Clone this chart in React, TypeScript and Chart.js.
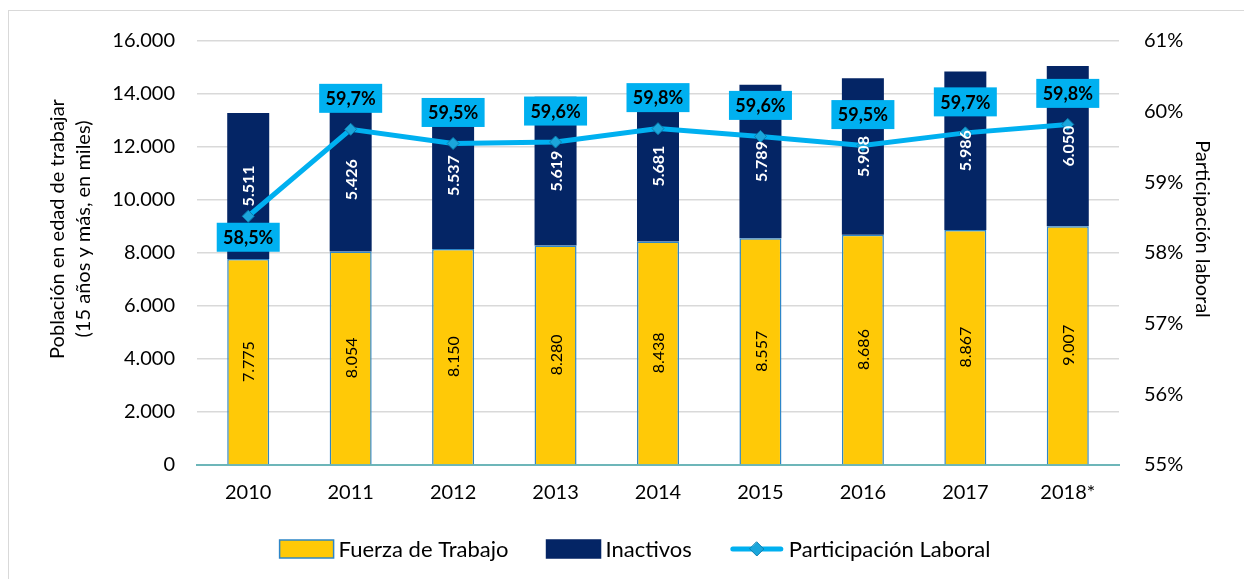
import React, { useEffect, useRef } from "react";
import { Chart, registerables } from "chart.js";

Chart.register(...registerables);

const categories = ["2010", "2011", "2012", "2013", "2014", "2015", "2016", "2017", "2018*"];
const fuerzaTrabajo = [7775, 8054, 8150, 8280, 8438, 8557, 8686, 8867, 9007];
const inactivos = [5511, 5426, 5537, 5619, 5681, 5789, 5908, 5986, 6050];
const participacion = [58.52, 59.75, 59.55, 59.57, 59.76, 59.65, 59.52, 59.7, 59.82];
const participacionLabels = ["58,5%", "59,7%", "59,5%", "59,6%", "59,8%", "59,6%", "59,5%", "59,7%", "59,8%"];
const leftTicks = { min: 0, max: 16000, step: 2000 };
const rightTicks = { min: 55, max: 61, step: 1 };
const leftTitle = ["Población en edad de trabajar", "(15 años y más, en miles)"];
const rightTitle = "Participación laboral";

const FONT = "Lato, 'Noto Sans', sans-serif";
const YELLOW = "#FFC907";
const NAVY = "#042565";
const CYAN = "#00B0F0";

function fmtThousands(v: number): string {
  const s = Math.round(v).toString();
  return s.replace(/\B(?=(\d{3})+(?!\d))/g, ".");
}

const labelPlugin = {
  id: "customLabels",
  afterDatasetsDraw(chart: any) {
    const ctx = chart.ctx;
    ctx.save();
    // bar value labels (drawn over the line)
    chart.data.datasets.forEach((ds: any, di: number) => {
      if (ds.type === "line") return;
      const meta = chart.getDatasetMeta(di);
      meta.data.forEach((el: any, i: number) => {
        const v = ds.data[i];
        const cy = (el.y + el.base) / 2;
        ctx.save();
        ctx.translate(el.x, cy);
        ctx.rotate(-Math.PI / 2);
        ctx.textAlign = "center";
        ctx.textBaseline = "middle";
        if (ds.label === "Inactivos") {
          ctx.fillStyle = "#ffffff";
          ctx.font = `bold 16px ${FONT}`;
        } else {
          ctx.fillStyle = "#000000";
          ctx.font = `16px ${FONT}`;
        }
        ctx.fillText(fmtThousands(v), 0, 1);
        ctx.restore();
      });
    });

    // line value labels
    const metaIdx = chart.data.datasets.findIndex((d: any) => d.type === "line");
    const meta = chart.getDatasetMeta(metaIdx);
    meta.data.forEach((pt: any, i: number) => {
      const w = 63;
      const h = 29;
      const below = i === 0;
      const cy = below ? pt.y + 21 : pt.y - 31;
      ctx.fillStyle = CYAN;
      ctx.fillRect(pt.x - w / 2, cy - h / 2, w, h);
      ctx.fillStyle = "#000";
      ctx.font = `bold 18px ${FONT}`;
      ctx.textAlign = "center";
      ctx.textBaseline = "middle";
      ctx.fillText(participacionLabels[i], pt.x, cy + 1);
    });

    // axis titles
    ctx.fillStyle = "#000";
    ctx.font = `20px ${FONT}`;
    ctx.textAlign = "center";
    ctx.textBaseline = "middle";
    const tY = 218;
    ctx.save();
    ctx.translate(49, tY);
    ctx.rotate(-Math.PI / 2);
    ctx.fillText(leftTitle[0], 0, 0);
    ctx.fillText(leftTitle[1], 0, 26);
    ctx.restore();
    ctx.save();
    ctx.translate(1193, tY);
    ctx.rotate(Math.PI / 2);
    ctx.fillText(rightTitle, 0, 0);
    ctx.restore();

    // legend
    const cyL = 538;
    ctx.font = `22px ${FONT}`;
    ctx.textBaseline = "middle";
    ctx.textAlign = "left";
    const items = [
      { kind: "box", fill: YELLOW, stroke: "#2E86C8", text: "Fuerza de Trabajo" },
      { kind: "box", fill: NAVY, stroke: NAVY, text: "Inactivos" },
      { kind: "line", fill: CYAN, stroke: CYAN, text: "Participación Laboral" },
    ];
    const symW = 54;
    const gapSym = 5;
    const gapItem = 38;
    const widths = items.map((it) => symW + gapSym + ctx.measureText(it.text).width);
    const total = widths.reduce((a, b) => a + b, 0) + gapItem * (items.length - 1);
    let x = 626 - total / 2;
    items.forEach((it, k) => {
      if (it.kind === "box") {
        ctx.fillStyle = it.fill;
        ctx.fillRect(x, cyL - 9, symW, 18);
        ctx.strokeStyle = it.stroke;
        ctx.lineWidth = 1.5;
        ctx.strokeRect(x, cyL - 9, symW, 18);
      } else {
        ctx.strokeStyle = CYAN;
        ctx.lineWidth = 5;
        ctx.lineCap = "round";
        ctx.beginPath();
        ctx.moveTo(x + 3, cyL);
        ctx.lineTo(x + symW - 3, cyL);
        ctx.stroke();
        ctx.fillStyle = "#1BA6DB";
        ctx.strokeStyle = "#0A7FB0";
        ctx.lineWidth = 1;
        ctx.beginPath();
        ctx.moveTo(x + symW / 2, cyL - 7);
        ctx.lineTo(x + symW / 2 + 7, cyL);
        ctx.lineTo(x + symW / 2, cyL + 7);
        ctx.lineTo(x + symW / 2 - 7, cyL);
        ctx.closePath();
        ctx.fill();
        ctx.stroke();
      }
      ctx.fillStyle = "#000";
      ctx.fillText(it.text, x + symW + gapSym, cyL + 1);
      x += widths[k] + gapItem;
    });
    ctx.restore();
  },
};

export default function App() {
  const ref = useRef<HTMLCanvasElement | null>(null);
  useEffect(() => {
    document.documentElement.style.overflow = "hidden";
    document.body.style.overflow = "hidden";
    const canvas = ref.current;
    if (!canvas) return;
    const chart = new Chart(canvas, {
      type: "bar",
      data: {
        labels: categories,
        datasets: [
          {
            type: "line",
            label: "Participación Laboral",
            data: participacion,
            yAxisID: "y1",
            borderColor: CYAN,
            backgroundColor: "#1BA6DB",
            borderWidth: 5,
            pointStyle: "rectRot",
            pointRadius: 6,
            pointBackgroundColor: "#1BA6DB",
            pointBorderColor: "#0A7FB0",
            pointBorderWidth: 1,
            tension: 0,
          } as any,
          {
            type: "bar",
            label: "Fuerza de Trabajo",
            data: fuerzaTrabajo,
            yAxisID: "y",
            backgroundColor: YELLOW,
            borderColor: "#2E86C8",
            borderWidth: 1.5,
            barPercentage: 0.41,
            categoryPercentage: 1,
          },
          {
            type: "bar",
            label: "Inactivos",
            data: inactivos,
            yAxisID: "y",
            backgroundColor: NAVY,
            borderColor: NAVY,
            borderWidth: 0,
            barPercentage: 0.41,
            categoryPercentage: 1,
          },
        ],
      },
      options: {
        responsive: false,
        animation: false,
        layout: { padding: { top: 30, bottom: 72, left: 0, right: 0 } },
        plugins: {
          legend: { display: false },
          tooltip: { enabled: false },
        },
        scales: {
          x: {
            stacked: true,
            grid: { display: false, drawTicks: false },
            border: { display: true, color: "#6DB6B9", width: 2 },
            ticks: {
              padding: 16,
              color: "#000",
              font: { family: FONT, size: 20 },
            },
            afterFit: (s: any) => {
              s.height = 42;
            },
          },
          y: {
            stacked: true,
            position: "left",
            min: leftTicks.min,
            max: leftTicks.max,
            grid: {
              color: "#D9D9D9",
              lineWidth: 1.5,
              drawTicks: true,
              tickLength: 18,
              tickColor: "rgba(0,0,0,0)",
            },
            border: { display: false },
            ticks: {
              stepSize: leftTicks.step,
              padding: 4,
              color: "#000",
              font: { family: FONT, size: 20 },
              callback: (v: any) => fmtThousands(Number(v)),
            },
            afterFit: (s: any) => {
              s.width = 188;
            },
          },
          y1: {
            position: "right",
            min: rightTicks.min,
            max: rightTicks.max,
            grid: {
              drawOnChartArea: false,
              drawTicks: true,
              tickLength: 21,
              tickColor: "rgba(0,0,0,0)",
            },
            border: { display: false },
            ticks: {
              stepSize: rightTicks.step,
              padding: 4,
              color: "#000",
              font: { family: FONT, size: 20 },
              callback: (v: any) => `${v}%`,
            },
            afterFit: (s: any) => {
              s.width = 124;
            },
          },
        },
      },
      plugins: [labelPlugin],
    } as any);
    return () => chart.destroy();
  }, []);

  return (
    <div
      style={{
        position: "absolute",
        left: 8,
        top: 10,
        width: 1260,
        height: 620,
        border: "1px solid #D9D9D9",
        boxSizing: "border-box",
        background: "#fff",
      }}
    >
      <canvas ref={ref} width={1234} height={568} style={{ position: "absolute", left: 0, top: 0 }} />
    </div>
  );
}
